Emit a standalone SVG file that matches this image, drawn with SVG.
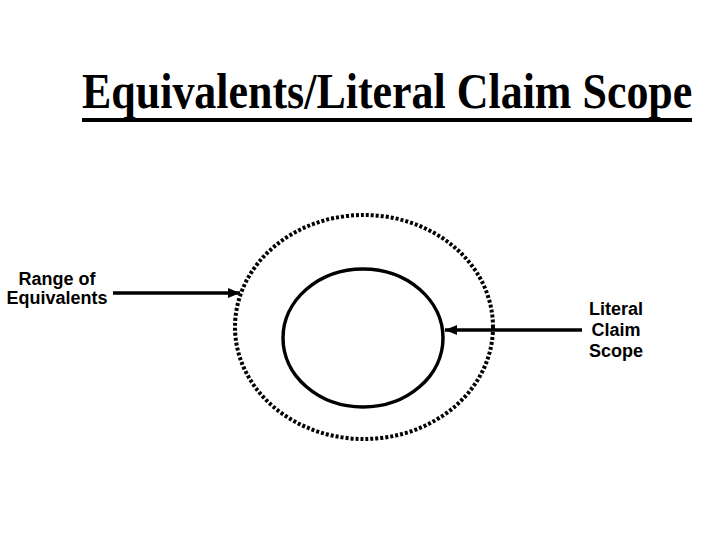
<svg xmlns="http://www.w3.org/2000/svg" width="720" height="540" viewBox="0 0 720 540">
<style>
.title{font-family:"Liberation Serif","Times New Roman",serif;font-weight:bold;font-size:50px;fill:#000}
.lbl{font-family:"Liberation Sans",Arial,sans-serif;font-weight:bold;font-size:18px;fill:#000;text-anchor:middle}
.line{stroke:#000;stroke-width:3.5;fill:none}
</style>
<defs>
<marker id="ah" markerWidth="12" markerHeight="10" refX="12" refY="5" orient="auto" markerUnits="userSpaceOnUse">
<path d="M0,0 L12,5 L0,10 Z" fill="#000"/>
</marker>
</defs>
<rect width="720" height="540" fill="#fff"/>
<g id="title">
<text class="title" transform="translate(82,108) scale(0.879,1)" x="0" y="0">Equivalents/Literal Claim Scope</text>
<rect x="82" y="118" width="610" height="4" fill="#000"/>
</g>
<g id="range-of-equivalents">
<ellipse cx="364" cy="327" rx="129" ry="112" fill="none" stroke="#000" stroke-width="4" stroke-dasharray="3 2"/>
</g>
<g id="literal-claim-scope">
<ellipse cx="363" cy="338" rx="80" ry="69" fill="none" stroke="#000" stroke-width="3.5"/>
</g>
<g id="label-range">
<text class="lbl" x="57" y="285">Range of</text>
<text class="lbl" x="57" y="304">Equivalents</text>
</g>
<g id="label-literal">
<text class="lbl" x="616" y="315">Literal</text>
<text class="lbl" x="616" y="336">Claim</text>
<text class="lbl" x="616" y="357">Scope</text>
</g>
<g id="connectors">
<line class="line" x1="113" y1="293" x2="240" y2="293" marker-end="url(#ah)"/>
<line class="line" x1="582" y1="330" x2="445" y2="330" marker-end="url(#ah)"/>
</g>
</svg>
